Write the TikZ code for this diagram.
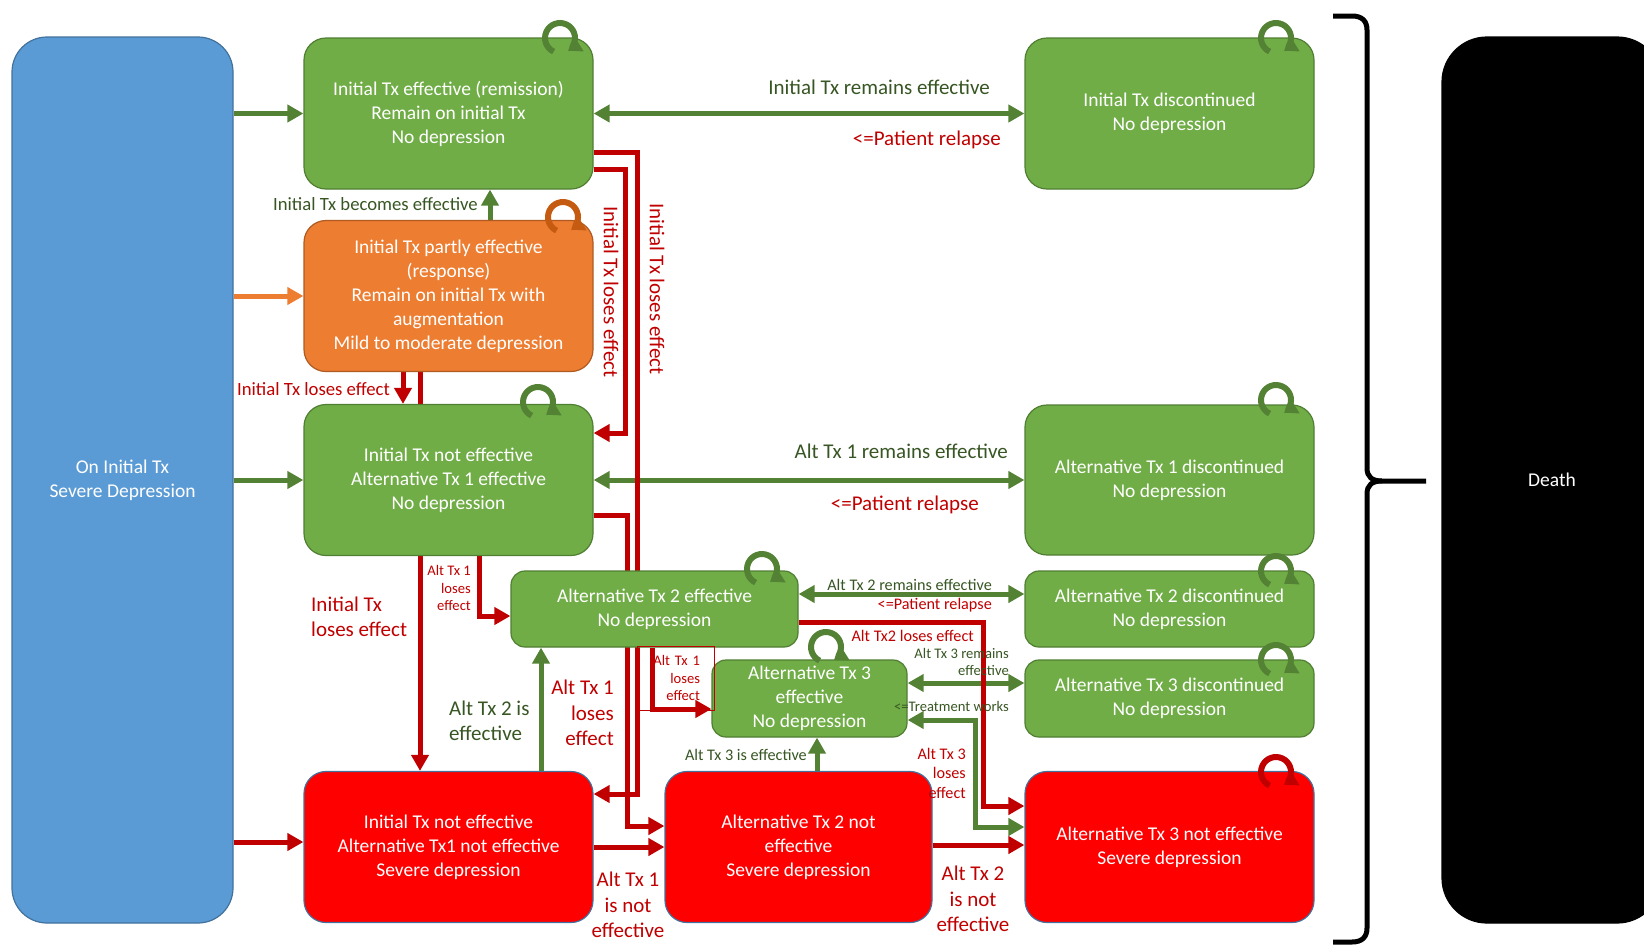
\documentclass[tikz,border=0pt]{standalone}
\usepackage{fontspec}
\setmainfont{Carlito}
\usetikzlibrary{arrows.meta,backgrounds}

\definecolor{grnfill}{HTML}{70AD47}
\definecolor{grnline}{HTML}{507E32}
\definecolor{grnarrow}{HTML}{548235}
\definecolor{grntext}{HTML}{375623}
\definecolor{orgfill}{HTML}{ED7D31}
\definecolor{orgline}{HTML}{AE5A21}
\definecolor{orgloop}{HTML}{C55A11}
\definecolor{redfill}{HTML}{FF0000}
\definecolor{redarrow}{HTML}{C00000}
\definecolor{bluefill}{HTML}{5B9BD5}
\definecolor{blueline}{HTML}{41719C}

% font sizes (1pt = 1px of the picture)
\newcommand{\boxtext}{\fontsize{19.5}{24}\selectfont}
\newcommand{\biglab}{\fontsize{21}{25.5}\selectfont}
\newcommand{\medlab}{\fontsize{18.7}{22}\selectfont}
\newcommand{\midlab}{\fontsize{16.2}{19.5}\selectfont}
\newcommand{\minilab}{\fontsize{14.6}{17.5}\selectfont}

\tikzset{
  state/.style={rectangle, rounded corners=22pt, draw=grnline, line width=1.2pt,
    fill=grnfill, text=white, align=center, font=\boxtext,
    minimum width=289pt, minimum height=151pt, inner sep=0pt},
  partstate/.style={state, fill=orgfill, draw=orgline},
  badstate/.style={state, fill=redfill, draw=blueline},
  thinstate/.style={state, minimum height=76pt, rounded corners=14pt},
  garrow/.style={draw=grnarrow, line width=5pt},
  rarrow/.style={draw=redarrow, line width=5pt},
  oarrow/.style={draw=orgfill, line width=5pt},
  lab/.style={inner sep=0pt},
  redlab/.style={lab, text=redarrow},
  grnlab/.style={lab, text=grntext},
  selfloop/.style={line width=6pt, -{Triangle[length=13pt,width=17pt]}},
}

\begin{document}
\begin{tikzpicture}[x=1pt, y=-1pt, >={Triangle[length=16pt,width=17pt]}]
\useasboundingbox (0,0) rectangle (1644,946);

% Outer columns
\node[state, fill=bluefill, draw=blueline, minimum width=221pt, minimum height=886pt,
  rounded corners=35pt] (start) at (122.5,480) {On Initial Tx\\Severe Depression};
\node[state, fill=black, draw=black, minimum width=220pt, minimum height=886pt,
  rounded corners=45pt] (death) at (1552,480) {Death};

% Initial treatment column
\node[state] (ieff) at (448.5,113.5) {Initial Tx effective (remission)\\Remain on initial Tx\\No depression};
\node[partstate] (ipart) at (448.5,296) {Initial Tx partly effective\\(response)\\Remain on initial Tx with\\augmentation\\Mild to moderate depression};
\node[state] (a1eff) at (448.5,480) {Initial Tx not effective\\Alternative Tx 1 effective\\No depression};
\node[badstate] (a1not) at (448.5,847) {Initial Tx not effective\\Alternative Tx1 not effective\\Severe depression};

% Middle column
\node[thinstate, minimum width=287pt] (a2eff) at (654.5,609) {Alternative Tx 2 effective\\No depression};
\node[thinstate, minimum width=195pt, minimum height=77pt] (a3eff) at (809.5,698.5) {Alternative Tx 3\\effective\\No depression};
\node[badstate, minimum width=267pt] (a2not) at (798.5,847) {Alternative Tx 2 not\\effective\\Severe depression};

% Discontinued column
\node[state] (idisc) at (1169.5,113.5) {Initial Tx discontinued\\No depression};
\node[state, minimum height=150pt] (a1disc) at (1169.5,480) {Alternative Tx 1 discontinued\\No depression};
\node[thinstate] (a2disc) at (1169.5,609) {Alternative Tx 2 discontinued\\No depression};
\node[thinstate, minimum height=77pt] (a3disc) at (1169.5,698.5) {Alternative Tx 3 discontinued\\No depression};
\node[badstate] (a3not) at (1169.5,847) {Alternative Tx 3 not effective\\Severe depression};

% Bend points of the elbow connectors
\coordinate (k1) at (625,433);
\coordinate (k2) at (637,794);
\coordinate (k3) at (627,826);
\coordinate (k4) at (479,616);
\coordinate (k5) at (541,0);
\coordinate (k6) at (652,709);
\coordinate (k7) at (817,0);
\coordinate (k8) at (983,806);
\coordinate (k9) at (975,720);

% Labels
\node[grnlab, anchor=east, font=\biglab] (l1) at (990,87) {Initial Tx remains effective};
\node[redlab, anchor=east, font=\biglab] (l2) at (1001,140) {<=Patient relapse};
\node[grnlab, anchor=east, font=\biglab] (l3) at (1008,451) {Alt Tx 1 remains effective};
\node[redlab, anchor=east, font=\biglab] (l4) at (979,505) {<=Patient relapse};
\node[grnlab, anchor=east, font=\medlab] (l5) at (478,204) {Initial Tx becomes effective};
\node[redlab, anchor=east, font=\medlab] (l6) at (390,389) {Initial Tx loses effect};
\node[redlab, rotate=-90, font=\biglab] (l7) at (611,292) {Initial Tx loses effect};
\node[redlab, rotate=-90, font=\biglab] (l8) at (657,289) {Initial Tx loses effect};
\node[redlab, anchor=west, align=left, font=\biglab] (l9) at (311,617) {Initial Tx\\loses effect};
\node[redlab, anchor=east, align=right, font=\minilab] (l10) at (471,588) {Alt Tx 1\\loses\\effect};
\node[grnlab, anchor=west, align=left, font=\biglab] (l11) at (449,721) {Alt Tx 2 is\\effective};
\node[redlab, anchor=east, align=right, font=\biglab] (l12) at (614,713) {Alt Tx 1\\loses\\effect};
\node[redlab, draw=redarrow, line width=1pt, text width=49pt, align=right, minimum width=77pt,
  minimum height=64pt, font=\minilab] (l13) at (675.5,678) {Alt Tx 1\\loses\\effect};
\node[redlab, align=center, font=\biglab] (l14) at (628,905) {Alt Tx 1\\is not\\effective};
\node[redlab, align=center, font=\biglab] (l15) at (973,899) {Alt Tx 2\\is not\\effective};
\node[grnlab, anchor=east, font=\midlab] (l16) at (807,755) {Alt Tx 3 is effective};
\node[grnlab, anchor=east, font=\midlab] (l17) at (992,585) {Alt Tx 2 remains effective};
\node[redlab, anchor=east, font=\midlab] (l18) at (992,605) {<=Patient relapse};
\node[redlab, anchor=east, font=\midlab] (l19) at (974,636) {Alt Tx2 loses effect};
\node[grnlab, anchor=east, align=right, font=\minilab] (l20) at (1009,662) {Alt Tx 3 remains\\effective};
\node[grnlab, anchor=east, font=\minilab] (l21) at (1009,706) {<=Treatment works};
\node[redlab, anchor=east, align=right, font=\midlab] (l22) at (966,773) {Alt Tx 3\\loses\\effect};

\begin{pgfonlayer}{background}
% Entries from the starting state
\draw[garrow, ->] (start.east |- ieff.west) -- (ieff.west);
\draw[oarrow, ->] (start.east |- ipart.west) -- (ipart.west);
\draw[garrow, ->] (start.east) -- (a1eff.west);
\draw[rarrow, ->] ([yshift=5pt]start.east |- a1not.west) -- ([yshift=5pt]a1not.west);

% Staying effective and relapsing
\draw[garrow, <->] (ieff.east) -- (idisc.west);
\draw[garrow, <->] (a1eff.east) -- (a1disc.west);
\draw[garrow, <->] ([yshift=15pt]a2eff.east) -- ([yshift=15pt]a2disc.west);
\draw[garrow, <->] ([yshift=15.5pt]a3eff.east) -- ([yshift=15.5pt]a3disc.west);

% Initial treatment
\draw[garrow, ->] ([xshift=41.5pt]ipart.north) -- ([xshift=41.5pt]ieff.south);
\draw[rarrow, ->] ([xshift=-45.5pt]ipart.south) -- ([xshift=-45.5pt]a1eff.north);
\draw[rarrow, ->] ([xshift=-28.5pt]ipart.south) -- ([xshift=-28.5pt]a1not.north);
\draw[rarrow, ->] ([yshift=-55.5pt]ieff.east) -| (k1) -- (k1 -| a1eff.east);
\draw[rarrow, ->] ([yshift=-38.5pt]ieff.east) -| (k2) -- (k2 -| a1not.east);

% Alternative treatments
\draw[rarrow, ->] ([yshift=-35pt]a1eff.east) -| (k3) -- (k3 -| a2not.west);
\draw[rarrow, ->] (k4 |- a1eff.south) |- (k4 -| a2eff.west);
\draw[garrow, ->] (k5 |- a1not.north) -- (k5 |- a2eff.south);
\draw[rarrow, ->] (k6 |- a2eff.south) |- (k6 -| a3eff.west);
\draw[garrow, ->] (k7 |- a2not.north) -- (k7 |- a3eff.south);
\draw[rarrow, ->] ([yshift=-13pt]a2eff.east) -| (k8) -- (k8 -| a3not.west);
\draw[garrow, <->] ([yshift=20pt]a3not.west) -| (k9) -- (k9 -| a3eff.east);
\draw[rarrow, ->] (a1not.east) -- (a2not.west);
\draw[rarrow, ->] ([yshift=2pt]a2not.east) -- ([yshift=2pt]a3not.west);
\end{pgfonlayer}

% Self loops
\foreach \lx/\ly in {560/38, 538/402, 762/569, 826/647, 1276/38, 1276/400, 1276/571, 1276/660}
  \draw[selfloop, grnarrow] (\lx,\ly) ++(245:15pt) arc[start angle=245, end angle=-58, radius=15pt];
\draw[selfloop, orgloop] (563,217) ++(245:15pt) arc[start angle=245, end angle=-58, radius=15pt];
\draw[selfloop, redarrow] (1276,772) ++(245:15pt) arc[start angle=245, end angle=-58, radius=15pt];

% Brace towards death
\draw[line width=5pt] (1333,16) -- (1352,16) .. controls (1362,16) and (1367,21) .. (1367,30)
  -- (1367,468) .. controls (1367,477) and (1372,481) .. (1382,481) -- (1426,481);
\draw[line width=5pt] (1382,481) .. controls (1372,481) and (1367,485) .. (1367,494)
  -- (1367,928) .. controls (1367,937) and (1362,942) .. (1352,942) -- (1333,942);

\end{tikzpicture}
\end{document}
